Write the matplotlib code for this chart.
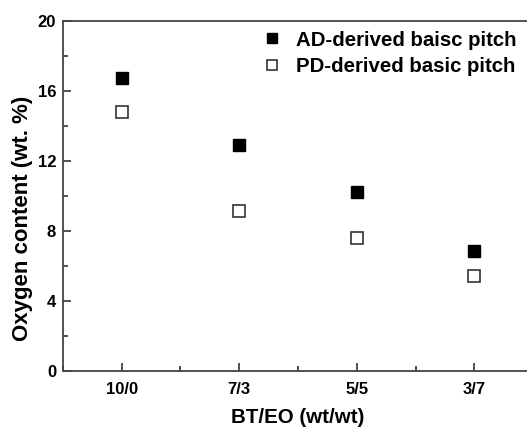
import matplotlib.pyplot as plt
from matplotlib.ticker import MultipleLocator

categorias = ['10/0', '7/3', '5/5', '3/7']
ad_oxigeno = [16.75, 12.9, 10.2, 6.85]
pd_oxigeno = [14.8, 9.15, 7.6, 5.4]

plt.rcParams['font.family'] = ['Liberation Sans', 'DejaVu Sans']
plt.rcParams['font.weight'] = 'bold'

fig = plt.figure(figsize=(5.27, 4.29), dpi=100)
ax = fig.add_axes([0.1195, 0.1352, 0.892, 0.8165])

x = list(range(1, len(categorias) + 1))
ax.plot(x, ad_oxigeno, 's', color='black', markersize=8.5, linestyle='none',
        label='AD-derived baisc pitch')
ax.plot(x, pd_oxigeno, 's', markerfacecolor='white', markeredgecolor='#333333',
        markeredgewidth=1.2, markersize=8.5, linestyle='none',
        label='PD-derived basic pitch')

ax.set_xlim(0.5, 4.5)
ax.set_ylim(0, 20)
ax.set_xticks(x)
ax.set_xticklabels(categorias)
ax.xaxis.set_minor_locator(MultipleLocator(0.5))
ax.yaxis.set_major_locator(MultipleLocator(4))
ax.yaxis.set_minor_locator(MultipleLocator(2))
ax.tick_params(which='both', direction='in', top=False, right=False,
               labelsize=12, width=1.2, color='#333333')
ax.tick_params(which='major', length=6)
ax.tick_params(which='minor', length=3.5)
for t in ax.get_xticklabels() + ax.get_yticklabels():
    t.set_fontweight('bold')
ax.tick_params(axis='x', pad=8)
ax.tick_params(axis='y', pad=5)

for lado in ['left', 'bottom', 'top']:
    ax.spines[lado].set_linewidth(1.3)
    ax.spines[lado].set_color('#444444')
ax.spines['right'].set_visible(False)

ax.set_xlabel('BT/EO (wt/wt)', fontsize=14.8, fontweight='bold', labelpad=8)
ax.set_ylabel('Oxygen content (wt. %)', fontsize=16, fontweight='bold')
ax.yaxis.set_label_coords(-0.064, 0.437)

ax.legend(loc='upper left', bbox_to_anchor=(0.4, 0.995), frameon=False,
          borderaxespad=0, handlelength=1.3, handletextpad=0.5,
          labelspacing=0.35, markerscale=0.85,
          prop={'weight': 'bold', 'size': 14.7})

fig.savefig('out.png', dpi=100)
